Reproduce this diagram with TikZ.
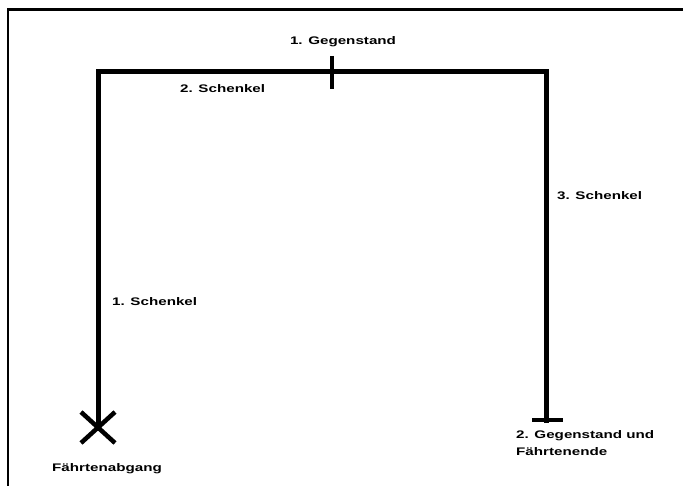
\documentclass[tikz,border=0pt]{standalone}
\usepackage{fontspec}
\newfontfamily\lblfont{Liberation Sans Bold}[FakeStretch=1.38]
\begin{document}
\begin{tikzpicture}[x=1pt,y=-1pt,
  trail/.style={line width=5pt,line cap=rect,line join=miter},
  marker/.style={line width=4pt},
  lbl/.style={font=\lblfont\fontsize{11}{17}\selectfont,inner sep=0pt,text=black},
  frame/.style={line width=2.5pt}]
\useasboundingbox (0,0) rectangle (683,486);
\clip (0,0) rectangle (683,486);
% outer frame
\coordinate (fbl) at (8,490);
\coordinate (ftl) at (8,9.5);
\coordinate (ftr) at (690,9.5);
\draw[frame] (fbl) -- (ftl) -- (ftr);
% trail
\coordinate (start) at (98,428);
\coordinate (c1) at (98,72);
\coordinate (c2) at (546,72);
\coordinate (end) at (546,420);
\draw[trail] (start) -- (c1) -- (c2) -- (end);
% object 1 tick
\coordinate (t1) at (332,56);
\coordinate (t2) at (332,89);
\draw[marker] (t1) -- (t2);
% end bar
\coordinate (b1) at (532,420);
\coordinate (b2) at (563,420);
\draw[marker,line width=4.5pt] (b1) -- (b2);
% X at start
\coordinate (x1) at (81,412);
\coordinate (x2) at (115,443);
\coordinate (x3) at (81,443);
\coordinate (x4) at (115,412);
\draw[marker,line width=4.5pt] (x1) -- (x2) (x3) -- (x4);
% labels
\node[lbl] (g1) at (343,42) {1. Gegenstand};
\node[lbl,anchor=west] (s2) at (180,89) {2. Schenkel};
\node[lbl,anchor=west] (s1) at (112,302) {1. Schenkel};
\node[lbl,anchor=west] (s3) at (557,196) {3. Schenkel};
\node[lbl,anchor=west] (fa) at (52,469) {Fährtenabgang};
\node[lbl,anchor=north west,align=left] (g2) at (516,430) {2. Gegenstand und\\Fährtenende};
\end{tikzpicture}
\end{document}
